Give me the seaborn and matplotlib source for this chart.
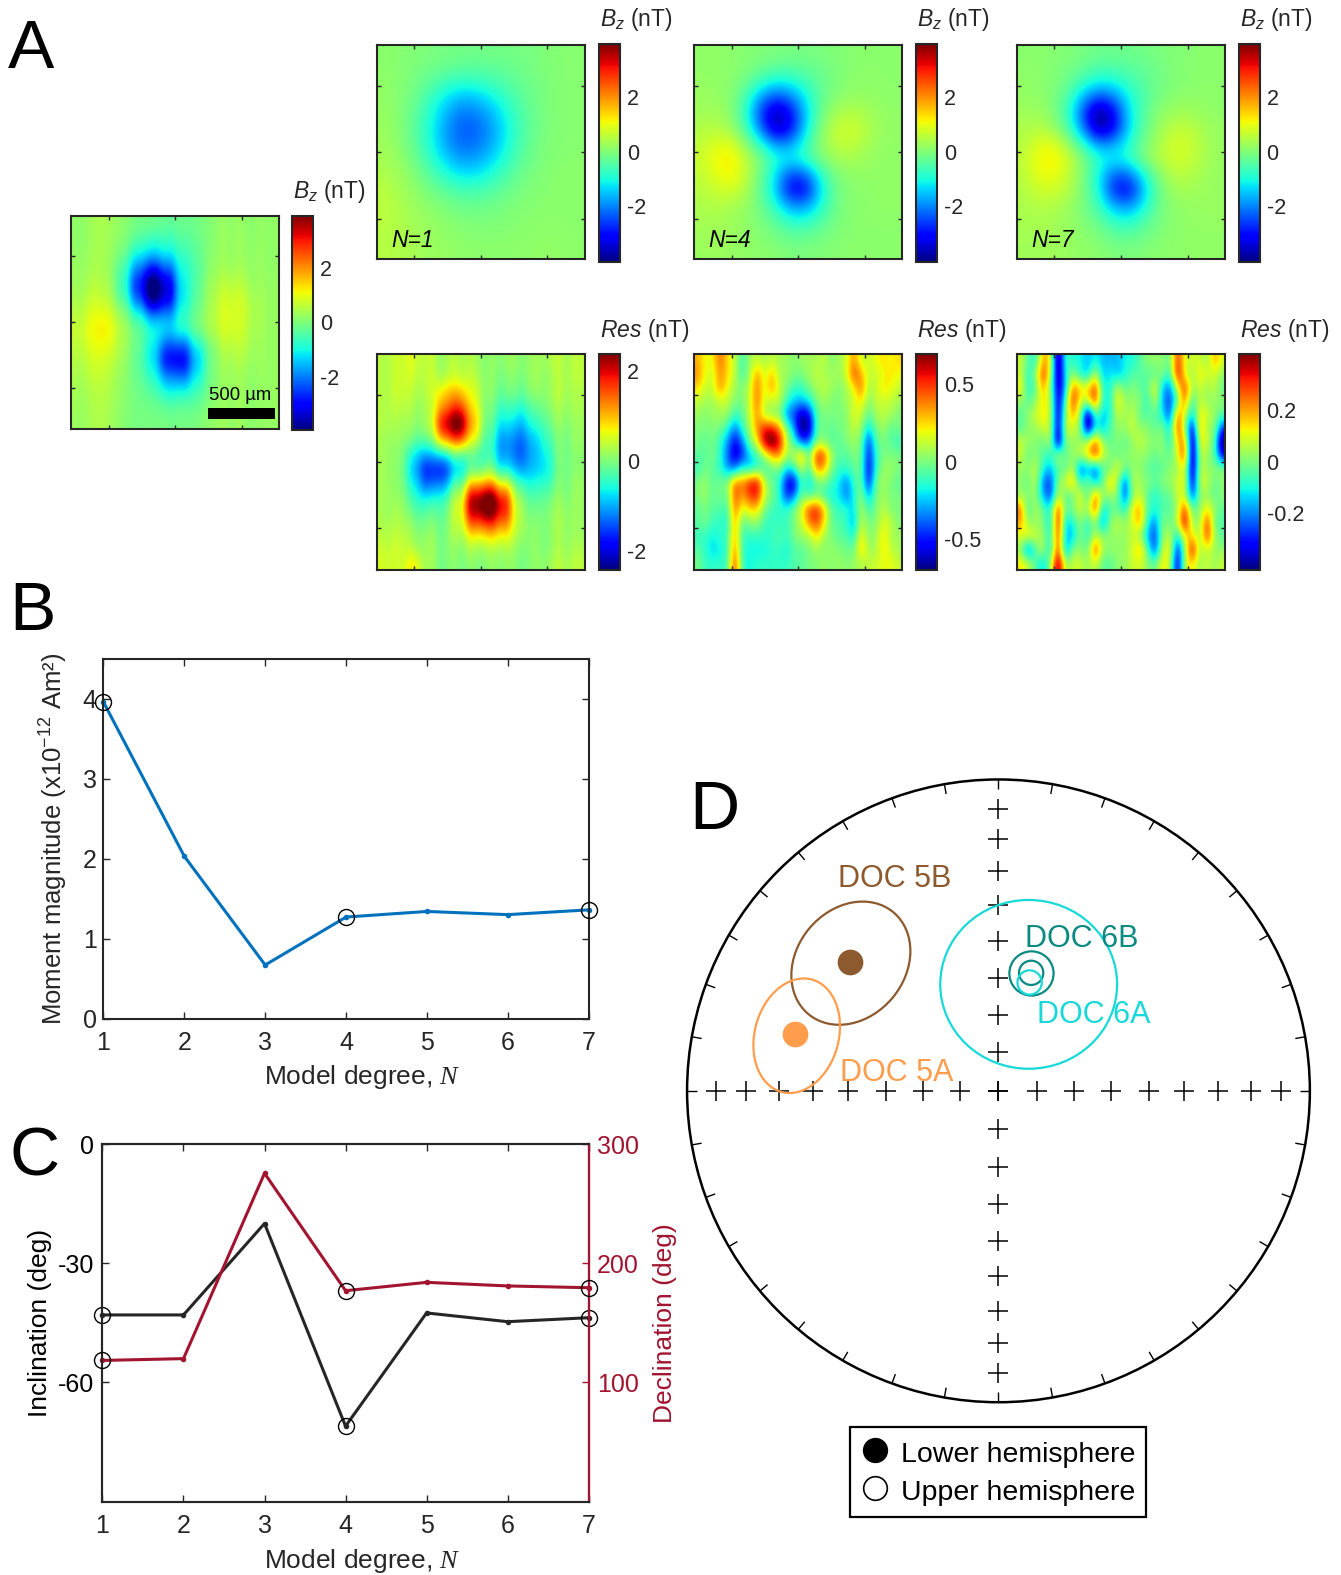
import matplotlib
matplotlib.use("Agg")
import matplotlib.pyplot as plt
import numpy as np
import pandas as pd
import seaborn as sns
from matplotlib.patches import Ellipse, Rectangle
from matplotlib.lines import Line2D
from matplotlib.cm import ScalarMappable
from matplotlib.colors import Normalize

sns.set_theme(style="white")
plt.rcParams["font.family"] = ["Liberation Sans", "DejaVu Sans"]
plt.rcParams["mathtext.fontset"] = "custom"
plt.rcParams["mathtext.rm"] = "Liberation Sans"
plt.rcParams["mathtext.it"] = "Liberation Sans:italic"
plt.rcParams["mathtext.cal"] = "Liberation Serif:italic"
plt.rcParams["axes.unicode_minus"] = False

# ---------- data: magnetic field maps (nT) ----------
measured = [
 [.15,.2,.2,.15,.05,-.1,-.2,-.2,-.1,-.05,.05,.1,.15,.15],
 [.15,.2,.15,.1,-.25,-.6,-.6,-.4,-.2,-.05,.1,.15,.15,.15],
 [.2,.2,.15,-.15,-.9,-1.3,-1.1,-.7,-.3,0,.1,.15,.2,.15],
 [.25,.25,.1,-.5,-1.9,-3.0,-2.3,-1.0,-.4,.05,.2,.25,.2,.15],
 [.3,.4,.2,-.7,-2.7,-4.5,-3.4,-1.2,-.35,.2,.45,.45,.25,.2],
 [.4,.55,.35,-.4,-2.1,-4.0,-3.2,-1.2,-.3,.3,.65,.65,.35,.2],
 [.55,.85,.8,.2,-.7,-1.9,-1.8,-.8,-.1,.35,.75,.7,.4,.2],
 [.7,1.0,1.0,.45,-.1,-.8,-1.2,-.8,-.1,.35,.7,.65,.35,.2],
 [.6,.85,.8,.4,-.1,-1.1,-2.3,-2.3,-1.0,-.1,.45,.5,.3,.2],
 [.5,.65,.55,.3,-.2,-1.2,-3.1,-3.3,-1.5,-.2,.25,.35,.25,.2],
 [.4,.5,.4,.2,-.1,-.8,-1.9,-2.2,-1.1,-.2,.15,.2,.2,.2],
 [.35,.35,.3,.15,0,-.4,-1.0,-1.0,-.6,-.1,.1,.2,.15,.2],
 [.3,.3,.25,.15,.05,-.1,-.3,-.3,-.2,0,.1,.15,.15,.2],
 [.25,.25,.2,.1,.05,0,-.05,-.1,0,.05,.1,.15,.15,.2],
]
measured_stripes = [.05,-.05,.12,.2,.25,.1,.05,-.05,-.1,-.15,0,-.1,.05,-.1,.05,0,-.05,.05,.1,.15,.25,.05,.2,.05,-.05,.1,0,.05]
model_n1 = [
 [.1,.05,0,-.05,-.1,-.15,-.15,-.15,-.15,-.1,-.1,0,.05,.05],
 [.1,.05,-.05,-.15,-.25,-.35,-.4,-.35,-.3,-.2,-.1,0,.05,.05],
 [.15,.05,-.1,-.35,-.65,-.85,-.85,-.7,-.5,-.3,-.15,-.05,.05,.05],
 [.15,.05,-.2,-.65,-1.2,-1.6,-1.6,-1.25,-.85,-.45,-.2,-.05,.05,.05],
 [.2,.05,-.3,-.85,-1.55,-2.1,-2.1,-1.75,-1.15,-.6,-.25,-.05,.05,.05],
 [.25,.05,-.35,-.95,-1.7,-2.3,-2.35,-1.95,-1.3,-.65,-.25,-.05,.05,.05],
 [.3,.1,-.3,-.9,-1.65,-2.2,-2.2,-1.85,-1.2,-.6,-.2,0,.05,.05],
 [.35,.2,-.15,-.7,-1.3,-1.75,-1.8,-1.45,-.95,-.45,-.15,0,.05,.1],
 [.45,.3,0,-.35,-.85,-1.2,-1.25,-1.0,-.6,-.25,-.05,.05,.1,.1],
 [.55,.35,.15,-.1,-.35,-.55,-.6,-.5,-.3,-.1,0,.05,.1,.1],
 [.55,.45,.25,.1,-.05,-.2,-.25,-.2,-.1,0,.05,.1,.1,.1],
 [.55,.45,.3,.2,.1,0,-.05,-.05,0,.05,.1,.1,.1,.1],
 [.5,.45,.35,.25,.15,.1,.05,.05,.05,.1,.1,.15,.1,.1],
 [.5,.45,.35,.25,.2,.15,.1,.1,.1,.1,.15,.15,.15,.1],
]
model_n4 = [
 [.15,.15,.1,.05,0,-.05,-.1,-.1,-.05,0,.05,.1,.1,.1],
 [.15,.15,.1,0,-.2,-.35,-.4,-.3,-.2,-.05,.05,.1,.1,.1],
 [.2,.15,.1,-.2,-.8,-1.2,-1.1,-.7,-.3,-.05,.1,.15,.1,.1],
 [.25,.2,.05,-.6,-1.9,-2.7,-2.2,-1.2,-.35,.05,.2,.2,.15,.1],
 [.3,.35,.1,-.8,-2.6,-3.9,-3.2,-1.5,-.2,.35,.55,.4,.2,.15],
 [.45,.55,.3,-.5,-2.1,-3.7,-3.1,-1.3,0,.6,.8,.5,.25,.15],
 [.6,.9,.95,.1,-.8,-1.9,-1.8,-.8,.1,.55,.65,.4,.2,.15],
 [.7,1.1,1.3,.6,-.1,-.9,-1.2,-.8,-.1,.25,.35,.25,.15,.15],
 [.6,.95,1.2,.6,-.2,-1.3,-2.6,-2.4,-.9,-.1,.15,.15,.15,.15],
 [.5,.7,.8,.45,-.3,-1.4,-3.2,-3.2,-1.3,-.2,.05,.1,.15,.15],
 [.4,.5,.4,.2,-.2,-.9,-1.9,-1.9,-1.0,-.2,.05,.1,.15,.15],
 [.35,.35,.3,.15,-.05,-.4,-.85,-.9,-.5,-.1,.05,.1,.1,.1],
 [.3,.3,.25,.15,.05,-.1,-.3,-.3,-.15,0,.05,.1,.1,.1],
 [.25,.25,.2,.15,.1,.05,-.05,-.05,0,.05,.1,.1,.1,.1],
]
model_n7 = [
 [.1,.1,.05,0,-.1,-.2,-.2,-.2,-.15,-.05,0,.05,.1,.1],
 [.1,.1,0,-.1,-.3,-.5,-.5,-.4,-.3,-.15,0,.05,.1,.1],
 [.15,.1,0,-.25,-.8,-1.2,-1.1,-.7,-.4,-.15,0,.05,.1,.1],
 [.2,.15,-.05,-.6,-1.8,-2.7,-2.2,-1.1,-.5,-.1,.1,.15,.15,.1],
 [.3,.3,0,-.8,-2.6,-4.3,-3.2,-1.3,-.4,.1,.3,.35,.2,.15],
 [.4,.55,.25,-.5,-2.1,-3.9,-3.1,-1.3,-.35,.25,.6,.6,.35,.2],
 [.5,.95,.95,.2,-.8,-1.9,-1.7,-.9,-.1,.4,.8,.75,.4,.2],
 [.6,1.1,1.25,.7,-.05,-.9,-1.2,-.9,-.1,.45,.75,.7,.4,.2],
 [.55,1.0,1.05,.6,-.1,-1.1,-2.4,-2.3,-1.0,0,.5,.5,.3,.2],
 [.45,.75,.75,.5,-.1,-1.0,-2.9,-3.2,-1.5,-.2,.3,.35,.25,.2],
 [.4,.5,.45,.25,-.1,-.7,-1.7,-2.0,-1.1,-.2,.1,.2,.2,.2],
 [.35,.4,.35,.2,0,-.3,-.8,-.95,-.5,-.1,.1,.15,.2,.2],
 [.35,.35,.3,.2,.1,-.05,-.3,-.35,-.2,0,.1,.15,.15,.15],
 [.3,.3,.3,.2,.15,.1,-.05,-.05,0,.1,.1,.15,.15,.15],
]
res_n1 = [
 [.3,.4,.5,.3,.2,.3,.2,.1,.1,.1,.1,.2,.2,.3],
 [.3,.4,.4,.3,.3,.4,.3,.1,0,0,.1,.1,.2,.3],
 [.3,.4,.3,.3,.9,1.0,.5,.1,-.1,-.1,0,.1,.2,.2],
 [.3,.3,.2,.2,1.3,1.7,.7,0,-.4,-.5,-.3,0,.1,.2],
 [.3,.2,.1,.2,2.2,2.8,1.0,-.1,-.7,-.9,-.6,-.2,0,.1],
 [.2,.1,-.1,-.1,1.3,1.7,.6,-.3,-1.1,-1.3,-1.0,-.4,-.1,.1],
 [.2,0,-.7,-1.1,-.6,-.2,-.3,-.4,-1.1,-1.4,-1.1,-.6,-.1,0],
 [.2,0,-1.0,-1.9,-1.7,-.9,-.3,0,-.6,-1.0,-1.0,-.7,-.1,0],
 [.2,0,-.7,-1.4,-1.0,-.1,1.1,1.4,.8,-.2,-.6,-.4,-.1,.1],
 [.2,.1,-.4,-.6,-.3,.5,2.4,3.0,2.0,.3,-.3,-.1,0,.1],
 [.2,.2,-.1,-.2,-.1,.5,2.0,2.4,1.8,.4,-.1,0,.1,.1],
 [.3,.3,.1,0,0,.3,.9,1.1,.9,.3,0,0,.1,.1],
 [.4,.4,.2,.1,0,.1,.2,.3,.3,.1,0,0,.1,.2],
 [.5,.4,.7,.1,0,0,0,.1,.1,0,0,.1,.2,.3],
]
res_n1_stripes = [.05,-.05,.1,0,.15,-.1,.05,.2,-.15,.05,.1,-.1,.15,0,-.1,.1,-.1,.05,.1,-.1,.05,.15,-.05,.1,.25,-.05,.1,.05]
res_n4 = [
 [.25,.15,.15,.35,.2,.1,-.1,.05,.1,.05,.1,.05,.05,0,.05,.05,.05,.1,0,.05,.1,.3,.1,.1,.15,.2,.15,.2],
 [.3,.15,.1,.3,.2,.1,-.1,.05,.3,.1,.25,.05,.05,0,0,.05,.1,.05,.05,.05,.1,.4,.25,.1,.1,.15,.2,.15],
 [.2,.1,.1,.3,.15,.05,0,.1,.35,.1,.3,.1,0,-.1,-.1,0,.05,.1,.05,0,.05,.15,.35,.05,.1,.2,.15,.1],
 [.1,.05,.05,.1,.1,0,0,.1,.35,.1,.1,.1,-.1,-.2,-.2,-.15,0,.05,0,0,.05,.1,.2,0,.1,.1,.1,.05],
 [.05,0,.05,.05,.05,-.1,-.05,.1,.3,.05,0,0,-.3,-.35,-.55,-.45,-.05,0,0,0,0,.15,.1,-.05,.05,.1,.05,0],
 [0,0,0,0,-.1,-.3,-.1,.05,.3,.45,.45,.3,0,-.25,-.6,-.55,-.05,0,-.05,0,0,.1,.05,-.2,0,.05,-.05,0],
 [0,-.05,0,-.1,-.25,-.45,-.3,0,.15,.55,.65,.5,.1,-.1,-.35,-.3,0,0,-.05,-.05,0,.05,0,-.4,-.05,0,-.05,-.1],
 [-.05,-.05,0,-.1,-.3,-.5,-.4,-.2,-.1,.05,.25,.3,.05,.1,.3,-.05,.45,.4,.05,-.05,-.05,0,0,-.45,-.1,0,0,0],
 [-.1,0,-.05,-.1,-.25,-.3,-.1,-.2,-.1,-.1,-.05,0,-.2,-.1,.1,-.1,.3,.25,0,-.1,-.1,-.05,0,-.5,-.1,.05,.05,0],
 [0,.05,-.05,0,0,.35,.3,.45,.5,.1,-.05,-.1,-.45,-.5,-.05,-.2,-.05,0,-.1,-.15,-.3,-.1,0,-.45,0,.05,0,-.05],
 [0,.05,-.05,0,-.05,.4,.25,.4,.45,.1,0,-.1,-.4,-.3,0,-.1,0,-.1,-.15,-.15,-.3,-.15,.05,-.25,0,.05,0,0],
 [-.05,0,-.05,-.05,-.1,.35,.1,.2,.2,0,-.1,-.1,-.1,0,.15,.4,.45,.25,-.05,-.1,-.1,-.2,.1,-.1,0,.1,0,0],
 [-.05,0,-.1,-.1,-.15,.3,-.05,0,.05,-.1,-.1,-.1,-.1,0,.1,.3,.4,.2,-.05,-.05,-.1,-.25,.1,0,0,.15,.1,0],
 [-.1,-.1,-.15,-.1,-.1,.3,-.1,-.1,-.1,-.1,-.1,-.05,-.1,0,.05,.05,.2,.05,0,-.05,-.05,-.15,.2,0,.05,.2,.05,.05],
 [-.05,-.1,-.2,-.15,-.1,.35,-.1,-.15,-.15,-.15,-.1,-.1,-.15,-.05,-.05,0,.05,0,.05,0,0,-.05,.25,.05,.05,.2,.1,.05],
 [0,-.1,-.1,-.1,-.1,.45,-.1,-.15,-.1,-.1,-.1,-.1,-.1,-.05,-.05,0,0,.05,0,.05,0,.05,.05,.1,.1,.15,.15,.1],
]
res_n7 = [
 [.1,0,-.05,.2,.15,-.38,0,-.05,-.05,-.1,-.05,-.1,-.1,-.1,-.05,-.05,0,.05,.05,.05,0,.3,.1,.1,.1,.05,.2,.1],
 [.1,-.05,.05,.3,.1,-.35,-.05,.05,-.05,-.1,.1,-.1,-.05,-.1,-.05,0,0,0,0,.05,-.05,.35,.1,.05,.15,.1,.1,.05],
 [.15,-.05,0,.2,.05,-.3,-.1,.25,.15,.15,.3,-.05,-.05,.1,0,.05,0,0,.15,-.1,-.15,.1,.3,.05,.1,.05,.1,0],
 [.05,0,.05,.15,.1,-.3,0,.3,.1,.1,.3,-.05,-.05,.15,.05,.05,.05,-.05,.1,-.1,-.2,0,.25,-.05,.1,.05,.05,.05],
 [0,.05,.1,.15,.1,-.3,.05,.2,.05,-.35,0,-.1,-.05,.1,.05,.1,0,0,0,-.05,-.2,.25,.1,-.1,.15,.1,.05,0],
 [0,.05,.05,.1,.1,-.3,.1,.1,.05,-.35,-.05,-.1,0,.05,.05,.1,.05,.05,0,.05,-.1,.3,.05,-.3,.2,.05,.05,-.2],
 [.1,.05,.05,0,.1,-.35,.05,.05,.05,.1,.25,.05,0,.05,0,.05,.1,.05,.05,.05,-.05,.15,.25,-.38,.15,.1,0,-.35],
 [.1,0,.05,0,-.05,.1,0,.05,.1,.15,.3,.1,.05,0,.05,.05,.05,.05,0,.05,0,.1,.3,-.38,.1,.05,0,-.25],
 [.05,.05,.1,-.05,-.1,0,0,.1,-.2,-.1,-.2,0,0,.15,0,.05,.05,0,0,0,.05,.05,.15,-.35,.1,.05,.05,.05],
 [.05,0,.1,-.15,-.2,.05,.1,.2,-.05,.05,-.1,0,.2,.05,-.2,.1,.05,.05,0,.05,.05,.1,.15,-.3,.1,.1,0,.05],
 [.05,.05,.05,-.1,-.2,.1,0,0,.15,-.05,.25,.05,.05,.05,-.2,.05,.1,0,-.05,0,0,.1,.1,-.2,.05,.05,0,.05],
 [.25,-.05,.1,0,-.05,.3,0,.05,.1,.05,.3,-.1,0,0,-.05,.15,.2,0,-.05,0,0,.05,.3,0,.05,.15,.05,0],
 [.2,.05,.05,.05,-.1,.35,-.1,-.05,.05,-.05,.05,-.15,.05,.1,.05,.1,.2,-.05,-.15,.05,0,.1,.35,.05,.05,.3,0,0],
 [.1,.15,.1,.05,-.05,.3,-.1,-.1,.05,-.05,.1,.05,.05,.05,.05,.1,.05,-.1,-.2,.05,.1,-.1,.15,.15,.05,.3,.05,0],
 [.05,-.2,0,.1,-.1,.32,-.15,.05,.05,0,.3,.05,.05,.05,.05,.1,.2,0,-.2,.1,.15,-.25,.05,.35,.05,.1,.05,.05],
 [.15,.1,0,-.1,.05,.42,.05,.1,.1,.05,.1,0,0,.05,.05,.1,.1,.05,0,.15,.1,-.3,.1,.15,.05,.1,.05,.1],
]
res_n4_gain = 1.25
res_n7_gain = 1.25
res_n7_offset = -.04

# ---------- data: panels B and C ----------
degree = [1, 2, 3, 4, 5, 6, 7]
moment = [3.96, 2.03, 0.67, 1.27, 1.34, 1.30, 1.36]
inclination = [-43.0, -43.0, -20.0, -71.0, -42.5, -44.7, -43.7]
declination = [118.5, 120.0, 275.5, 177.0, 184.0, 181.0, 179.5]
selected = [1, 4, 7]

# ---------- data: panel D (equal-area net units, radius = 1) ----------
net_cross_radii = [.124, .243, .362, .482, .596, .706, .81, .906]
net_tick_azimuths = list(range(0, 360, 10))
lower_points = {"DOC 5B": (-.477, .413), "DOC 5A": (-.652, .181)}
# centre x, centre y, full width, full height, angle
cones = {
    "DOC 5B": (-.474, .410, .426, .348, 50),
    "DOC 5A": (-.648, .177, .374, .270, 75),
    "DOC 6A": (.097, .342, .568, .542, 0),
    "DOC 6B": (.106, .377, .142, .142, 0),
    "DOC 6B mean": (.105, .379, .078, .078, 0),
    "DOC 6A mean": (.100, .348, .078, .078, 0),
}
colors = {"DOC 5B": "#8C5A2E", "DOC 5A": "#FF9D4D", "DOC 6A": "#19D8D8",
          "DOC 6B": "#0B8A82", "DOC 6B mean": "#0B8A82", "DOC 6A mean": "#19D8D8"}
labels_d = {"DOC 5B": (-.516, .680), "DOC 6B": (.084, .487),
            "DOC 6A": (.123, .245), "DOC 5A": (-.510, .058)}

W, H = 1335.0, 1568.0
DARK = "#262626"
fig = plt.figure(figsize=(13.41, 15.75), dpi=100, facecolor="white")


def box(x0, y0, x1, y1):
    return [x0 / W, 1 - y1 / H, (x1 - x0) / W, (y1 - y0) / H]


def put(x, y, s, **kw):
    kw.setdefault("color", DARK)
    kw.setdefault("va", "center")
    fig.text(x / W, 1 - y / H, s, **kw)


def style(ax, lw=1.5):
    for s in ax.spines.values():
        s.set_visible(True)
        s.set_linewidth(lw)
        s.set_color(DARK)


def field_map(grid, limits, ticks, ticklabels, bounds, cbar_bounds, title, tag=None, title_dy=25):
    lo, hi = limits
    ax = fig.add_axes(box(*bounds))
    ax.imshow(np.array(grid), cmap="jet", vmin=lo, vmax=hi, aspect="auto",
              interpolation="bicubic", extent=[0, 1, 0, 1], origin="upper")
    ax.set_xticks([.18, .5, .82])
    ax.set_yticks([.19, .5, .81])
    ax.tick_params(which="both", direction="in", length=3, width=1, color=DARK,
                   labelleft=False, labelbottom=False, top=True, right=True,
                   left=True, bottom=True)
    style(ax)
    cax = fig.add_axes(box(*cbar_bounds))
    cb = fig.colorbar(ScalarMappable(Normalize(lo, hi), "jet"), cax=cax)
    cb.set_ticks(ticks)
    cb.set_ticklabels(ticklabels)
    cb.ax.tick_params(direction="in", length=3, width=1, color=DARK, labelsize=15.5,
                      labelcolor=DARK, pad=5, right=True)
    cb.outline.set_linewidth(1.5)
    cb.outline.set_edgecolor(DARK)
    put(cbar_bounds[0] + 1, cbar_bounds[1] - title_dy, title, fontsize=16.5, ha="left")
    if tag:
        ax.text(.07, .085, tag, transform=ax.transAxes, fontsize=16.5, color="black",
                style="italic", va="center")
    return ax


BZ = r"$B_z$ (nT)"
RES = r"$Res$ (nT)"
bz_ticks, bz_labels = [-2, 0, 2], ["-2", "0", "2"]
model_limits = (-4.07, 3.96)
striped_measured = np.repeat(np.array(measured), 2, axis=1) + np.array(measured_stripes)
striped_res_n1 = np.repeat(np.array(res_n1), 2, axis=1) + np.array(res_n1_stripes)

ax0 = field_map(striped_measured, (-3.97, 3.93), bz_ticks, bz_labels, (71, 215, 278, 427), (291, 215, 312, 428), BZ, title_dy=24)
ax0.add_patch(Rectangle((.655, .048), .325, .048, transform=ax0.transAxes, color="black", lw=0))
ax0.text(.66, .155, "500 µm", transform=ax0.transAxes, fontsize=13.3, color="black", va="center")

field_map(model_n1, model_limits, bz_ticks, bz_labels, (375, 45, 582, 258), (596, 44, 617, 261), BZ, "N=1")
field_map(model_n4, model_limits, bz_ticks, bz_labels, (691, 45, 898, 258), (912, 44, 933, 261), BZ, "N=4")
field_map(model_n7, model_limits, bz_ticks, bz_labels, (1012, 45, 1220, 258), (1233, 44, 1254, 261), BZ, "N=7")
field_map(striped_res_n1, (-2.41, 2.39), [-2, 0, 2], ["-2", "0", "2"], (375, 352, 582, 567), (596, 352, 617, 567), RES, title_dy=23)
field_map(np.array(res_n4) * res_n4_gain, (-.7, .7), [-.5, 0, .5], ["-0.5", "0", "0.5"], (691, 352, 898, 567), (912, 352, 933, 567), RES, title_dy=23)
field_map(np.array(res_n7) * res_n7_gain + res_n7_offset, (-.42, .42), [-.2, 0, .2], ["-0.2", "0", "0.2"], (1012, 352, 1220, 567), (1233, 352, 1254, 567), RES, title_dy=23)

# ---------- panel B ----------
axb = fig.add_axes(box(103, 656, 586, 1014))
frame = pd.DataFrame({"degree": degree, "moment": moment, "inclination": inclination,
                      "declination": declination})
sns.lineplot(data=frame, x="degree", y="moment", ax=axb, color="#0072BD", lw=2.2,
             marker="o", markersize=4, markeredgewidth=0, clip_on=False, errorbar=None)
picked = frame[frame["degree"].isin(selected)]
axb.plot(picked["degree"], picked["moment"], ls="none", marker="o", ms=11.5, mfc="none",
         mec="black", mew=1.0, clip_on=False, zorder=5)
axb.set_xlim(1, 7)
axb.set_ylim(0, 4.5)
axb.set_xticks(degree)
axb.set_yticks([0, 1, 2, 3, 4])
axb.tick_params(direction="in", length=5, width=1, color=DARK, labelsize=18, labelcolor=DARK,
                top=True, right=True, left=True, bottom=True, pad=9)
axb.tick_params(axis="y", pad=5)
axb.set_xlabel(r"Model degree, $\mathcal{N}$", fontsize=19, color=DARK, labelpad=6, x=.534)
axb.set_ylabel("Moment magnitude (x10$^{-12}$ Am²)", fontsize=18.5, color=DARK, labelpad=9)
style(axb)

# ---------- panel C ----------
axc = fig.add_axes(box(102, 1139, 586, 1495))
sns.lineplot(data=frame, x="degree", y="inclination", ax=axc, color=DARK, lw=2.2,
             marker="o", markersize=4, markeredgewidth=0, clip_on=False, errorbar=None)
axc.plot(picked["degree"], picked["inclination"], ls="none", marker="o", ms=11.5, mfc="none",
         mec="black", mew=1.0, clip_on=False, zorder=5)
axc.set_xlim(1, 7)
axc.set_ylim(-90, 0)
axc.set_xticks(degree)
axc.set_yticks([-60, -30, 0])
axc.tick_params(direction="in", length=5, width=1, color=DARK, labelsize=18, labelcolor=DARK,
                top=True, bottom=True, left=True, right=False, pad=9)
axc.tick_params(axis="y", pad=6, labelcolor="black")
axc.set_xlabel(r"Model degree, $\mathcal{N}$", fontsize=19, color=DARK, labelpad=6, x=.534)
axc.set_ylabel("Inclination (deg)", fontsize=19, color="black", labelpad=4)
style(axc)
axr = axc.twinx()
RED = "#A2142F"
sns.lineplot(data=frame, x="degree", y="declination", ax=axr, color=RED, lw=2.2,
             marker="o", markersize=4, markeredgewidth=0, clip_on=False, errorbar=None)
axr.plot(picked["degree"], picked["declination"], ls="none", marker="o", ms=11.5, mfc="none",
         mec="black", mew=1.0, clip_on=False, zorder=5)
axr.set_ylim(0, 300)
axr.set_yticks([100, 200, 300])
axr.tick_params(axis="y", direction="in", length=5, width=1, color=RED, labelsize=18,
                labelcolor=RED, right=True, left=False, pad=6)
axr.set_ylabel("Declination (deg)", fontsize=19, color=RED, labelpad=10)
style(axr)
axr.spines["right"].set_color(RED)
axr.spines["right"].set_linewidth(1.6)

# ---------- panel D ----------
axd = fig.add_axes(box(684, 776, 1304, 1396))
axd.set_xlim(-1, 1)
axd.set_ylim(-1, 1)
axd.set_axis_off()
axd.add_patch(plt.Circle((0, 0), 1, fc="none", ec="black", lw=1.8, clip_on=False))
for az in net_tick_azimuths:
    t = np.deg2rad(az)
    axd.plot([.968 * np.sin(t), np.sin(t)], [.968 * np.cos(t), np.cos(t)], color="black",
             lw=1.0, clip_on=False, solid_capstyle="butt")
crosses = [0.0] + net_cross_radii + [-r for r in net_cross_radii]
axd.plot(crosses, [0.0] * len(crosses), ls="none", marker="+", ms=15, mew=1.1, color="black")
axd.plot([0.0] * len(crosses), crosses, ls="none", marker="+", ms=15, mew=1.1, color="black")
for name, (cx, cy, w, h, ang) in cones.items():
    axd.add_patch(Ellipse((cx, cy), w, h, angle=ang, fc="none", ec=colors[name], lw=1.6, zorder=4))
for name, (px, py) in lower_points.items():
    axd.plot([px], [py], ls="none", marker="o", ms=18.5, mfc=colors[name], mec="none", zorder=4)
for name, (tx, ty) in labels_d.items():
    axd.text(tx, ty, name, fontsize=22, color=colors[name], va="center", ha="left", zorder=6)
handles = [
    Line2D([], [], ls="none", marker="o", ms=17, mfc="black", mec="black", mew=1.2),
    Line2D([], [], ls="none", marker="o", ms=17, mfc="white", mec="black", mew=1.2),
]
leg = axd.legend(handles, ["Lower hemisphere", "Upper hemisphere"], fontsize=20.5,
                 loc="upper left", bbox_to_anchor=(846 / W, 1 - 1421 / H),
                 bbox_transform=fig.transFigure, frameon=True, fancybox=False,
                 framealpha=1, edgecolor="black", labelspacing=.29, handletextpad=.41,
                 handlelength=1.0, handleheight=1.15, borderpad=.38, borderaxespad=0,
                 labelcolor="black")
leg.get_frame().set_linewidth(1.6)

# ---------- panel letters ----------
for letter, x, y in [("A", 8, 68), ("B", 9, 627), ("C", 9, 1170), ("D", 686, 825)]:
    put(x, y, letter, fontsize=50, color="black", ha="left", va="baseline")

fig.savefig("out.png", dpi=100, facecolor="white")
